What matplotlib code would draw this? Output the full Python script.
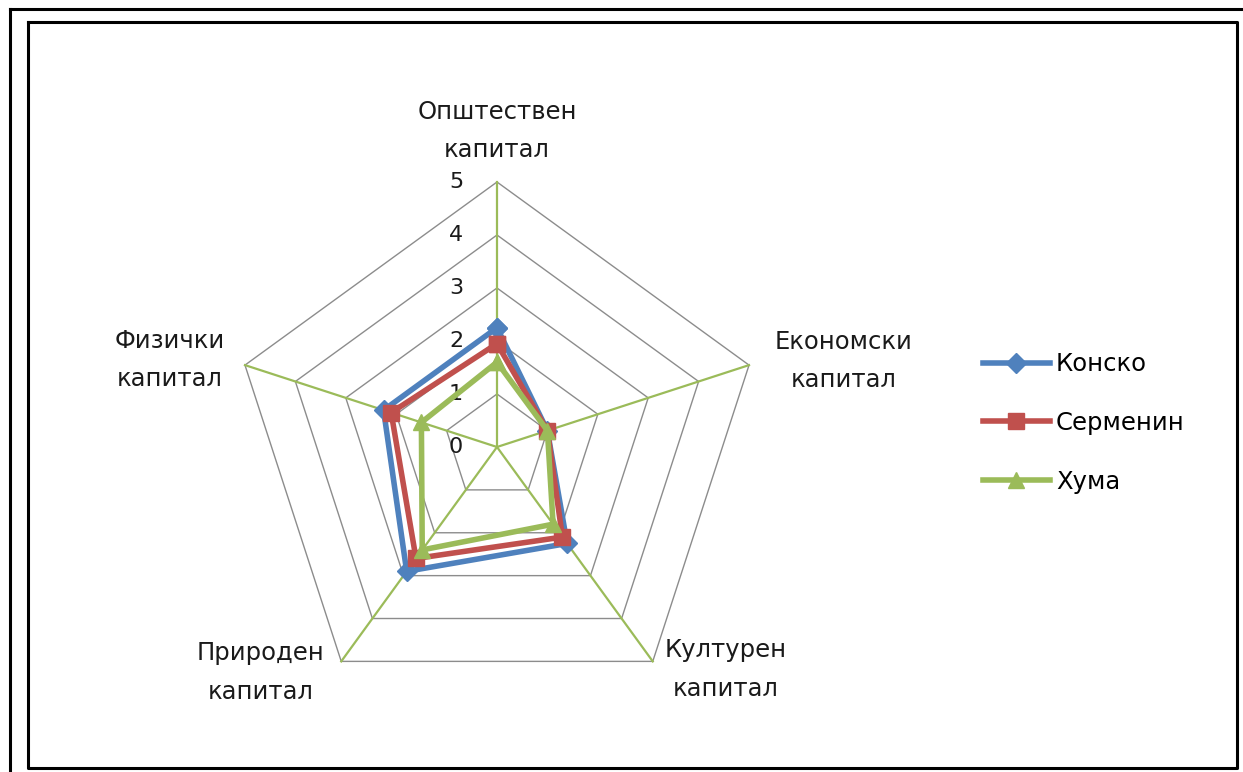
import numpy as np
import matplotlib
matplotlib.use("Agg")
import matplotlib.pyplot as plt
from matplotlib.lines import Line2D

plt.rcParams['font.family'] = ['DejaVu Sans']

categories = ["Општествен\nкапитал", "Економски\nкапитал", "Културен\nкапитал",
              "Природен\nкапитал", "Физички\nкапитал"]
series_names = ["Конско", "Серменин", "Хума"]
konsko = [2.25, 1.0, 2.25, 2.9, 2.25]
sermenin = [1.95, 1.0, 2.1, 2.6, 2.1]
huma = [1.6, 1.0, 1.8, 2.4, 1.5]
levels = [0, 1, 2, 3, 4, 5]

colors = ["#4F81BD", "#C0504D", "#9BBB59"]
markers = ["D", "s", "^"]

W, H = 1243, 772
fig = plt.figure(figsize=(W / 100, H / 100), dpi=100)

# polar axes: center (497,447) px, radius 265 px
cx, cy, R = 497, 447, 265
ax = fig.add_axes([(cx - R) / W, (H - cy - R) / H, 2 * R / W, 2 * R / H], projection='polar')
ax.set_theta_zero_location('N')
ax.set_theta_direction(-1)
ax.set_ylim(0, 5)
ax.grid(False)
ax.set_xticks([])
ax.set_yticks([])
ax.spines['polar'].set_visible(False)
ax.patch.set_visible(False)

n = len(categories)
theta = np.linspace(0, 2 * np.pi, n, endpoint=False)
theta_closed = np.append(theta, theta[0])

# gridlines (pentagons)
for lv in levels[1:]:
    ax.plot(theta_closed, [lv] * (n + 1), color="#8C8C8C", lw=1.0, clip_on=False, zorder=1)
# spokes
for t in theta:
    ax.plot([t, t], [0, levels[-1]], color="#9BBB59", lw=1.6, clip_on=False, zorder=2)

# data
for vals, name, c, m, z in zip([konsko, sermenin, huma], series_names, colors, markers, [3, 4, 5]):
    v = np.append(vals, vals[0])
    ax.plot(theta_closed, v, color=c, lw=4.0, marker=m, markersize=11 if m != "D" else 10,
            markeredgecolor=c, clip_on=False, zorder=z, label=name)

# value tick labels
for lv in levels:
    ax.annotate(str(lv), xy=(0, lv), xytext=(-41, 0), textcoords='offset pixels',
                ha='center', va='center', fontsize=16, color="#1a1a1a")

# category labels
offsets = [(0, 51), (95, 4), (73, -8), (-81, -11), (-75, 5)]
for t, lab, off in zip(theta, categories, offsets):
    ax.annotate(lab, xy=(t, 5), xytext=off, textcoords='offset pixels',
                ha='center', va='center', multialignment='center',
                fontsize=17.5, linespacing=1.75, color="#1a1a1a")

# legend
handles = [Line2D([], [], color=c, lw=4.0, marker=m, markersize=11 if m != "D" else 10,
                  markeredgecolor=c) for c, m in zip(colors, markers)]
fig.legend(handles, series_names, loc='center left',
           bbox_to_anchor=(983 / W, 1 - 423 / H), frameon=False,
           fontsize=17.5, handlelength=2.75, handletextpad=0.25, labelspacing=1.42,
           borderpad=0, borderaxespad=0)

# borders
lw_b = 2.2
fig.add_artist(Line2D([10 / W, 1.0], [1 - 9 / H, 1 - 9 / H], color='black', lw=lw_b,
                      transform=fig.transFigure))
fig.add_artist(Line2D([10 / W, 10 / W], [1 - 9 / H, 0.0], color='black', lw=lw_b,
                      transform=fig.transFigure))
xs = [28 / W, 1237 / W, 1237 / W, 28 / W, 28 / W]
ys = [1 - 22 / H, 1 - 22 / H, 1 - 768 / H, 1 - 768 / H, 1 - 22 / H]
fig.add_artist(Line2D(xs, ys, color='black', lw=lw_b, transform=fig.transFigure))

fig.savefig("out.png", dpi=100, facecolor='white')
